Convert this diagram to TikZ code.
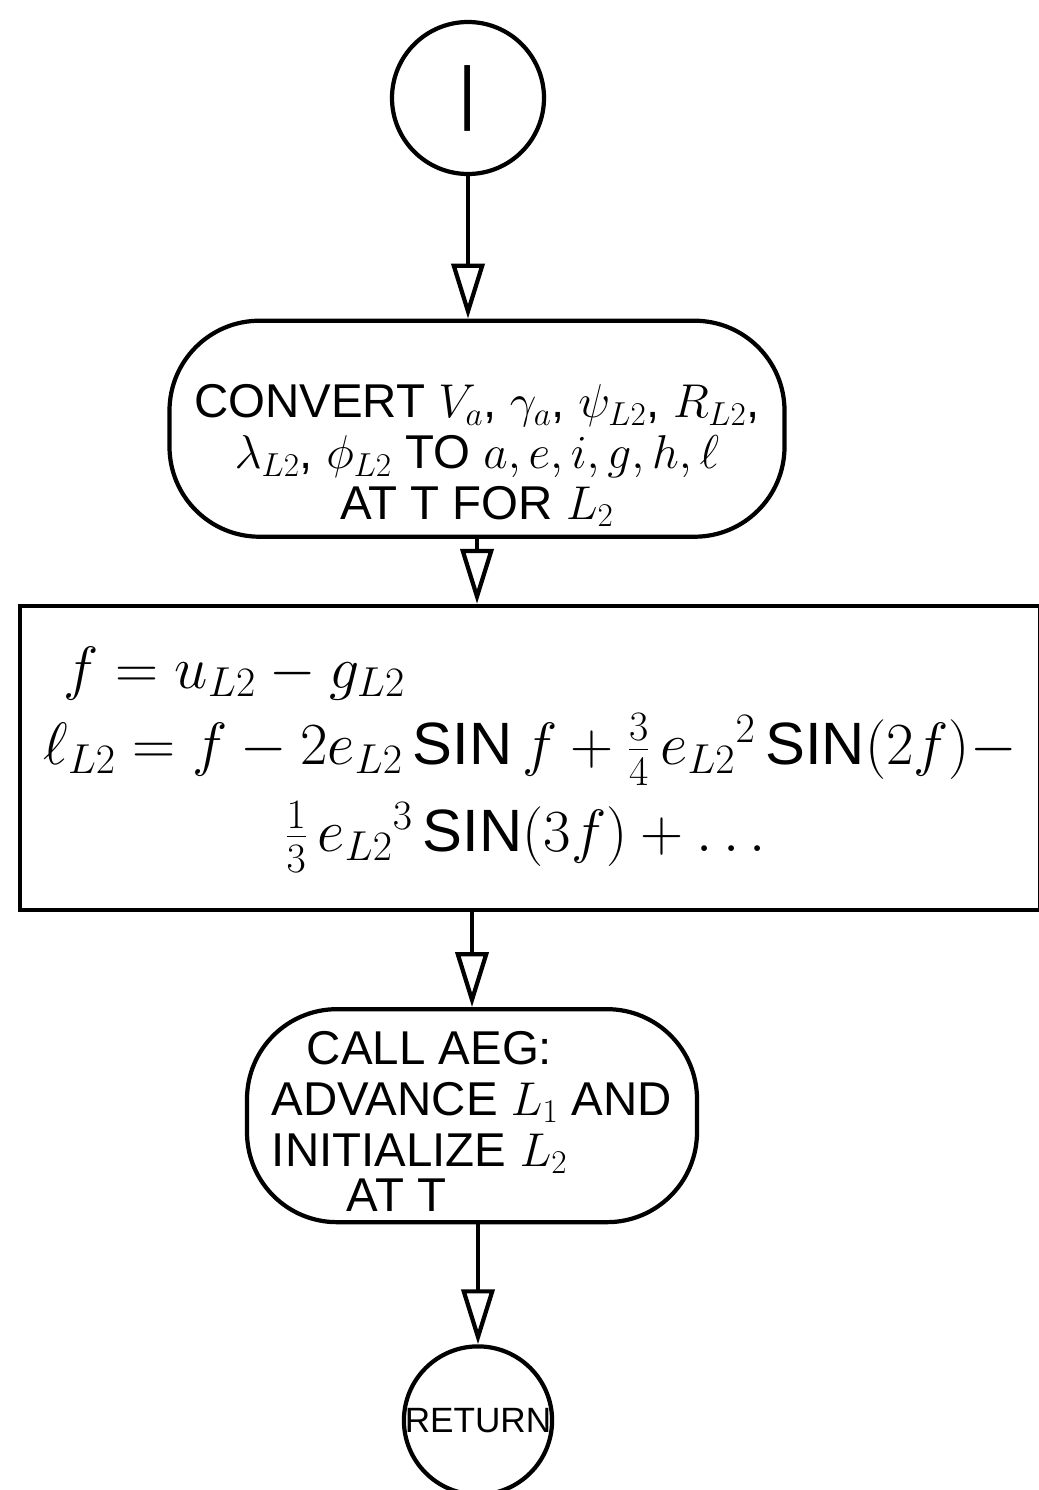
\RequirePackage{fix-cm}
\documentclass[tikz,border=0pt]{standalone}
\usepackage{amsmath}
\usepackage{fontspec}
\setmainfont{Liberation Sans}
\usepackage{tikz}
\usetikzlibrary{
  arrows.meta,
  positioning
}
\tikzset{
  fcline/.style={line width=2.4pt},
  connector/.style={
    draw, circle, fcline, inner sep=0pt, minimum size=3.04cm,
    font=\fontsize{40}{40}\selectfont
  },
  terminal/.style={
    draw, fcline, rounded corners=1.8cm, inner sep=0pt, align=center,
    font=\fontsize{27}{29}\selectfont
  },
  process/.style={
    draw, fcline, inner sep=0pt, align=center,
    font=\fontsize{34}{36}\selectfont
  },
  flow/.style={fcline, -{Triangle[open, length=11mm, width=6.6mm]}}
}

\begin{document}
\begin{tikzpicture}
  \useasboundingbox (0,0) rectangle (20.76,-29.8);
  \node[connector] (start) at (9.36,-1.96) {|};
  % text sits low in the shape, as drawn
  \node[terminal, minimum width=12.3cm, minimum height=4.32cm,
    below=2.85cm of start, xshift=0.18cm] (conv)
    {\rule{0pt}{1.75cm}CONVERT $V_a$, $\gamma_a$, $\psi_{L2}$, $R_{L2}$,\\
     $\lambda_{L2}$, $\phi_{L2}$ TO $a, e, i, g, h, \ell$\\
     AT T FOR $L_2$};
  \node[process, minimum width=20.4cm, minimum height=6.08cm,
    below=1.3cm of conv, xshift=1.06cm] (eqbox)
    {\begin{tabular}{@{}l@{}}
      \hspace*{0.4cm}$f = u_{L2} - g_{L2}$\\[4pt]
      $\ell_{L2} = f - 2e_{L2}\,\text{SIN}\,f + \frac{3}{4}\,{e_{L2}}^{2}\,\text{SIN}(2f) -$\\[10pt]
      \multicolumn{1}{@{}c@{}}{$\frac{1}{3}\,{e_{L2}}^{3}\,\text{SIN}(3f) + \dots$}
     \end{tabular}};
  \node[terminal, minimum width=9cm, minimum height=4.26cm, align=left,
    below=1.9cm of eqbox, xshift=-1.16cm] (call)
    {\rule{0pt}{0.9cm}\hspace*{0.7cm}CALL AEG:\\
     ADVANCE $L_1$ AND\\
     INITIALIZE $L_2$\\[-3pt]
     \hspace*{1.5cm}AT T};
  \node[connector, minimum size=2.8cm, font=\fontsize{20}{20}\selectfont,
    below=2.4cm of call, xshift=0.12cm] (ret) {RETURN};
  \draw[flow] (start.south) -- (start.south |- conv.north);
  \draw[flow] (conv.south) -- (conv.south |- eqbox.north);
  \draw[flow] (call.north |- eqbox.south) -- (call.north);
  \draw[flow] (ret.north |- call.south) -- (ret.north);
\end{tikzpicture}
\end{document}
